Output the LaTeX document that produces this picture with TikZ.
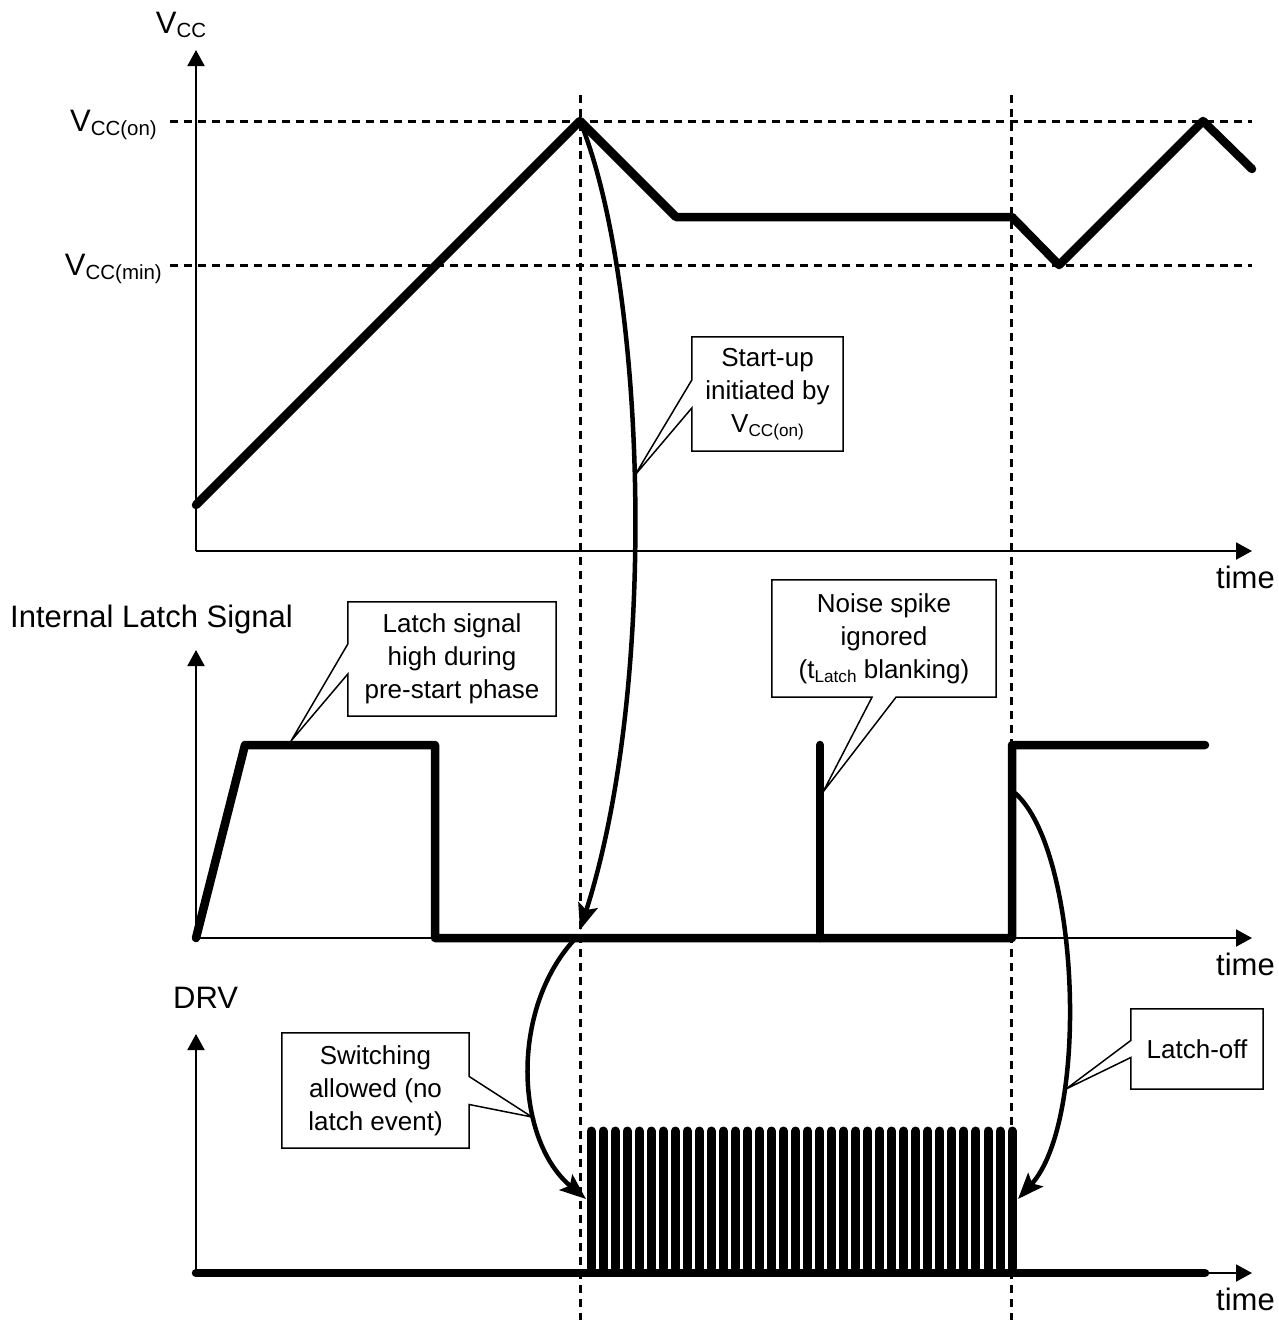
\documentclass[tikz,border=0pt]{standalone}
\usepackage{fontspec}
\setmainfont{Liberation Sans}
\usetikzlibrary{arrows.meta,calc}
\newcommand{\lsub}[1]{\raisebox{-0.15em}{\scalebox{0.66}{#1}}}
\begin{document}
\begin{tikzpicture}[x=1pt,y=-1pt,
  axis/.style={line width=2pt,-{Triangle[length=16pt,width=17pt]}},
  wave/.style={line width=8.5pt,line join=round,line cap=round},
  pulse/.style={line width=9pt,line cap=round},
  guide/.style={line width=3pt,dash pattern=on 8pt off 6pt},
  bendarrow/.style={line width=4.5pt,-{Stealth[length=26pt,width=20pt,inset=5pt]}},
  lbl/.style={font=\fontsize{31}{37}\selectfont,inner sep=0pt},
  note/.style={rectangle,align=center,inner sep=0pt,font=\fontsize{26}{33}\selectfont},
  noteline/.style={draw,line width=1.5pt,line join=miter},
]
\useasboundingbox (0,0) rectangle (1278,1320);

% guide lines
\draw[guide] (580,95) coordinate (g1t) -- (580,1320) coordinate (g1b);
\draw[guide] (1011,95) coordinate (g2t) -- (1011,1320) coordinate (g2b);
\draw[guide] (170,121) coordinate (hon1) -- (1252,121) coordinate (hon2);
\draw[guide] (170,265) coordinate (hmin1) -- (1252,265) coordinate (hmin2);

% axes
\coordinate (o1) at (196,551);
\coordinate (o2) at (196,938);
\coordinate (o3) at (196,1273);
\draw[axis] (o1) -- (196,50) coordinate (y1);
\draw[axis] (o1) -- (1252,551) coordinate (x1);
\draw[axis] (o2) -- (196,650) coordinate (y2);
\draw[axis] (o2) -- (1252,938) coordinate (x2);
\draw[axis] (o3) -- (196,1034) coordinate (y3);
\draw[axis] (o3) -- (1252,1273) coordinate (x3);

% labels
\node[lbl,anchor=base] (lvcc) at (181,33) {V\lsub{CC}};
\node[lbl,anchor=base east] (lvon) at (157,131) {V\lsub{CC(on)}};
\node[lbl,anchor=base east] (lvmin) at (162,275) {V\lsub{CC(min)}};
\node[lbl,anchor=base west] (lt1) at (1216,588) {time};
\node[lbl,anchor=base west] (lt2) at (1216,975) {time};
\node[lbl,anchor=base west] (lt3) at (1216,1310) {time};
\node[lbl,anchor=base west] (lils) at (10,627) {Internal Latch Signal};
\node[lbl,anchor=base west] (ldrv) at (173,1008) {DRV};

% VCC waveform
\coordinate (v0) at (196,505);
\coordinate (v1) at (580,121);
\coordinate (v2) at (676,217);
\coordinate (v3) at (1012,217);
\coordinate (v4) at (1059,265);
\coordinate (v5) at (1203,121);
\coordinate (v6) at (1252,169);
\draw[wave] (v0) -- (v1) -- (v2) -- (v3) -- (v4) -- (v5) -- (v6);

% latch waveform
\coordinate (l0) at (196,938);
\coordinate (l1) at (245,745);
\coordinate (l2) at (435,745);
\coordinate (l3) at (435,938);
\coordinate (l4) at (1012,938);
\coordinate (l5) at (1012,745);
\coordinate (l6) at (1205,745);
\coordinate (s0) at (820,938);
\coordinate (s1) at (820,745);
\draw[wave] (l0) -- (l1) -- (l2) -- (l3) -- (l4) -- (l5) -- (l6);
\draw[wave] (s0) -- (s1);

% DRV waveform
\coordinate (d0) at (196,1273);
\coordinate (d1) at (1205,1273);
\foreach \i in {0,...,35}{
  \draw[pulse] ({591+12.03*\i},1268) -- ({591+12.03*\i},1131);
}
\draw[wave] (d0) -- (d1);

% curved arrows
\coordinate (a1e) at (580,930);
\coordinate (a2s) at (574,940);
\coordinate (a2e) at (586,1199);
\coordinate (a3s) at (1015,793);
\coordinate (a3e) at (1018,1199);
\draw[bendarrow] (v1) .. controls (645,280) and (660,680) .. (a1e);
\draw[bendarrow] (a2s) .. controls (510,1010) and (515,1140) .. (a2e);
\draw[bendarrow] (a3s) .. controls (1080,850) and (1090,1120) .. (a3e);

% callouts
\coordinate (p1) at (635,475);
\coordinate (p2) at (291,741);
\coordinate (p3) at (823,792);
\coordinate (p4) at (532,1117);
\coordinate (p5) at (1066,1089);
\node[note,minimum width=151pt,minimum height=114pt] (c1) at (767.5,394) {Start-up\\initiated by\\V\lsub{CC(on)}};
\node[note,minimum width=208pt,minimum height=114pt] (c2) at (452,659) {Latch signal\\high during\\pre-start phase};
\node[note,minimum width=224pt,minimum height=117pt] (c3) at (884,638.5) {Noise spike\\ignored\\(t\lsub{Latch} blanking)};
\node[note,minimum width=187pt,minimum height=115pt] (c4) at (375.5,1090.5) {Switching\\allowed (no\\latch event)};
\node[note,minimum width=132pt,minimum height=80pt] (c5) at (1197,1049) {Latch-off};

\path[noteline] ($(c1.west)+(0,-14)$) -- (c1.north west) -- (c1.north east) -- (c1.south east) -- (c1.south west) -- ($(c1.west)+(0,14)$) -- (p1) -- cycle;
\path[noteline] ($(c2.west)+(0,-15)$) -- (c2.north west) -- (c2.north east) -- (c2.south east) -- (c2.south west) -- ($(c2.west)+(0,15)$) -- (p2) -- cycle;
\path[noteline] ($(c3.south)+(12,0)$) -- (c3.south east) -- (c3.north east) -- (c3.north west) -- (c3.south west) -- ($(c3.south)+(-12,0)$) -- (p3) -- cycle;
\path[noteline] ($(c4.east)+(0,14)$) -- (c4.south east) -- (c4.south west) -- (c4.north west) -- (c4.north east) -- ($(c4.east)+(0,-14)$) -- (p4) -- cycle;
\path[noteline] ($(c5.west)+(0,-8.5)$) -- (c5.north west) -- (c5.north east) -- (c5.south east) -- (c5.south west) -- ($(c5.west)+(0,8.5)$) -- (p5) -- cycle;
\end{tikzpicture}
\end{document}
